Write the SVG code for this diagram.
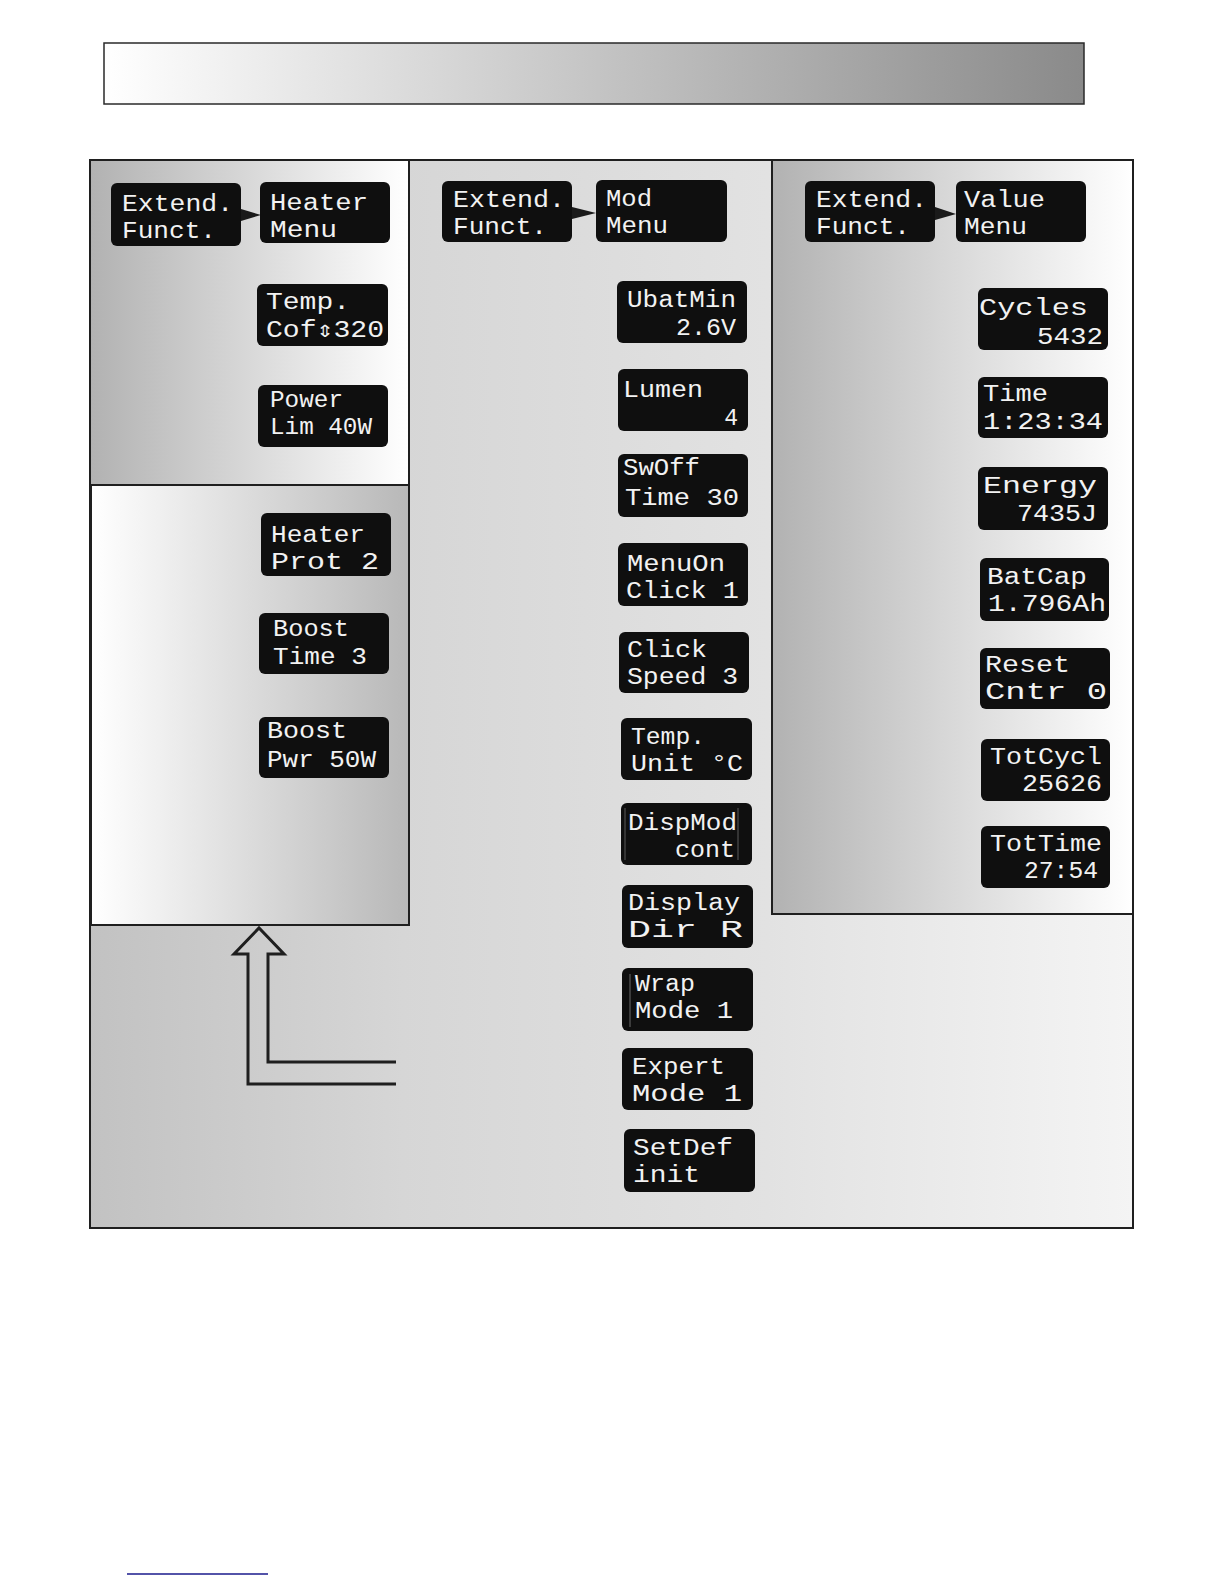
<svg xmlns="http://www.w3.org/2000/svg" width="1224" height="1584" viewBox="0 0 1224 1584" xml:space="preserve">
<style>
.lcd{fill:#0f0f0f}
.t{font-family:"Liberation Mono","DejaVu Sans Mono",monospace;font-size:23px;fill:#f2f2f2}
.frame{stroke:#1f1f1f;stroke-width:2}
.tri{fill:#1a1a1a}
</style>
<defs>
<linearGradient id="gHead" x1="0" y1="0" x2="1" y2="0"><stop offset="0" stop-color="#ffffff"/><stop offset="1" stop-color="#8a8a8a"/></linearGradient>
<linearGradient id="gOuter" x1="0" y1="0" x2="1" y2="0"><stop offset="0" stop-color="#c2c2c2"/><stop offset="0.3" stop-color="#d6d6d6"/><stop offset="0.65" stop-color="#e2e2e2"/><stop offset="1" stop-color="#f4f4f4"/></linearGradient>
<linearGradient id="gDarkLight" x1="0" y1="0" x2="1" y2="0"><stop offset="0" stop-color="#b2b2b2"/><stop offset="1" stop-color="#ffffff"/></linearGradient>
<linearGradient id="gLightDark" x1="0" y1="0" x2="1" y2="0"><stop offset="0" stop-color="#ffffff"/><stop offset="1" stop-color="#b8b8b8"/></linearGradient>
</defs>

<rect x="104" y="43" width="980" height="61" fill="url(#gHead)" stroke="#2a2a2a" stroke-width="1.5"/>

<g id="panels">
<rect x="90" y="160" width="1043" height="1068" fill="url(#gOuter)" class="frame"/>
<rect x="91" y="161" width="318" height="324" fill="url(#gDarkLight)"/>
<line x1="409" y1="160" x2="409" y2="485" class="frame"/>
<rect x="91" y="485" width="318" height="440" fill="url(#gLightDark)" class="frame"/>
<rect x="772" y="160" width="361" height="754" fill="url(#gDarkLight)" class="frame"/>
</g>

<g id="connectors">
<polygon class="tri" points="241,209 261,215 241,221"/>
<polygon class="tri" points="572,207 596,213 572,219"/>
<polygon class="tri" points="935,207 956,214 935,220"/>
<path d="M396,1062 H268 V954 H284 L259,928 L234,954 H248 V1084 H396" fill="none" stroke="#1f1f1f" stroke-width="3" stroke-linejoin="miter"/>
</g>

<g id="n-extend-heater"><rect class="lcd" x="111" y="183" width="130" height="63" rx="6"/>
<text class="t" x="122" y="211" textLength="111" lengthAdjust="spacingAndGlyphs">Extend.</text>
<text class="t" x="122" y="238" textLength="94" lengthAdjust="spacingAndGlyphs">Funct.</text></g>
<g id="n-heater-menu"><rect class="lcd" x="260" y="182" width="130" height="61" rx="6"/>
<text class="t" x="270" y="210" textLength="98" lengthAdjust="spacingAndGlyphs">Heater</text>
<text class="t" x="270" y="237" textLength="67" lengthAdjust="spacingAndGlyphs">Menu</text></g>
<g id="n-temp-cof"><rect class="lcd" x="257" y="284" width="131" height="62" rx="6"/>
<text class="t" x="266" y="309" textLength="84" lengthAdjust="spacingAndGlyphs">Temp.</text>
<text class="t" x="266" y="337" textLength="118" lengthAdjust="spacingAndGlyphs">Cof⇕320</text></g>
<g id="n-power-lim"><rect class="lcd" x="258" y="385" width="130" height="62" rx="6"/>
<text class="t" x="270" y="407" textLength="73" lengthAdjust="spacingAndGlyphs">Power</text>
<text class="t" x="270" y="434" textLength="102" lengthAdjust="spacingAndGlyphs">Lim 40W</text></g>
<g id="n-heater-prot"><rect class="lcd" x="261" y="513" width="130" height="63" rx="6"/>
<text class="t" x="271" y="542" textLength="94" lengthAdjust="spacingAndGlyphs">Heater</text>
<text class="t" x="271" y="569" textLength="108" lengthAdjust="spacingAndGlyphs">Prot   2</text></g>
<g id="n-boost-time"><rect class="lcd" x="259" y="613" width="130" height="61" rx="6"/>
<text class="t" x="273" y="636" textLength="76" lengthAdjust="spacingAndGlyphs">Boost</text>
<text class="t" x="273" y="664" textLength="94" lengthAdjust="spacingAndGlyphs">Time 3</text></g>
<g id="n-boost-pwr"><rect class="lcd" x="259" y="717" width="130" height="61" rx="6"/>
<text class="t" x="267" y="738" textLength="80" lengthAdjust="spacingAndGlyphs">Boost</text>
<text class="t" x="267" y="767" textLength="109" lengthAdjust="spacingAndGlyphs">Pwr 50W</text></g>

<g id="n-extend-mod"><rect class="lcd" x="442" y="181" width="130" height="61" rx="6"/>
<text class="t" x="453" y="207" textLength="112" lengthAdjust="spacingAndGlyphs">Extend.</text>
<text class="t" x="453" y="234" textLength="94" lengthAdjust="spacingAndGlyphs">Funct.</text></g>
<g id="n-mod-menu"><rect class="lcd" x="596" y="180" width="131" height="62" rx="6"/>
<text class="t" x="606" y="206" textLength="46" lengthAdjust="spacingAndGlyphs">Mod</text>
<text class="t" x="606" y="233" textLength="62" lengthAdjust="spacingAndGlyphs">Menu</text></g>
<g id="n-ubatmin"><rect class="lcd" x="617" y="281" width="130" height="62" rx="6"/>
<text class="t" x="627" y="307" textLength="109" lengthAdjust="spacingAndGlyphs">UbatMin</text>
<text class="t" x="736" y="335" text-anchor="end" textLength="60" lengthAdjust="spacingAndGlyphs">2.6V</text></g>
<g id="n-lumen"><rect class="lcd" x="618" y="369" width="130" height="62" rx="6"/>
<text class="t" x="623" y="397" textLength="80" lengthAdjust="spacingAndGlyphs">Lumen</text>
<text class="t" x="738" y="425" text-anchor="end">4</text></g>
<g id="n-swoff"><rect class="lcd" x="618" y="454" width="130" height="63" rx="6"/>
<text class="t" x="623" y="475" textLength="77" lengthAdjust="spacingAndGlyphs">SwOff</text>
<text class="t" x="625" y="505" textLength="114" lengthAdjust="spacingAndGlyphs">Time 30</text></g>
<g id="n-menuon"><rect class="lcd" x="618" y="543" width="130" height="63" rx="6"/>
<text class="t" x="627" y="571" textLength="98" lengthAdjust="spacingAndGlyphs">MenuOn</text>
<text class="t" x="626" y="598" textLength="113" lengthAdjust="spacingAndGlyphs">Click 1</text></g>
<g id="n-click-speed"><rect class="lcd" x="619" y="632" width="130" height="61" rx="6"/>
<text class="t" x="627" y="657" textLength="80" lengthAdjust="spacingAndGlyphs">Click</text>
<text class="t" x="627" y="684" textLength="111" lengthAdjust="spacingAndGlyphs">Speed 3</text></g>
<g id="n-temp-unit"><rect class="lcd" x="621" y="718" width="131" height="62" rx="6"/>
<text class="t" x="631" y="744" textLength="74" lengthAdjust="spacingAndGlyphs">Temp.</text>
<text class="t" x="631" y="771" textLength="112" lengthAdjust="spacingAndGlyphs">Unit °C</text></g>
<g id="n-dispmod"><rect class="lcd" x="621" y="803" width="131" height="62" rx="6"/>
<line x1="625" y1="808" x2="625" y2="860" stroke="#5a5a5a" stroke-width="1"/>
<line x1="738" y1="808" x2="738" y2="860" stroke="#5a5a5a" stroke-width="1"/>
<text class="t" x="628" y="830" textLength="109" lengthAdjust="spacingAndGlyphs">DispMod</text>
<text class="t" x="735" y="857" text-anchor="end" textLength="60" lengthAdjust="spacingAndGlyphs">cont</text></g>
<g id="n-display-dir"><rect class="lcd" x="622" y="885" width="131" height="63" rx="6"/>
<text class="t" x="628" y="910" textLength="112" lengthAdjust="spacingAndGlyphs">Display</text>
<text class="t" x="628" y="937" textLength="115" lengthAdjust="spacingAndGlyphs">Dir    R</text></g>
<g id="n-wrap-mode"><rect class="lcd" x="622" y="968" width="131" height="63" rx="6"/>
<line x1="630" y1="974" x2="630" y2="1027" stroke="#6a6a6a" stroke-width="1"/>
<text class="t" x="635" y="991" textLength="60" lengthAdjust="spacingAndGlyphs">Wrap</text>
<text class="t" x="635" y="1018" textLength="98" lengthAdjust="spacingAndGlyphs">Mode  1</text></g>
<g id="n-expert-mode"><rect class="lcd" x="622" y="1048" width="131" height="62" rx="6"/>
<text class="t" x="632" y="1074" textLength="93" lengthAdjust="spacingAndGlyphs">Expert</text>
<text class="t" x="632" y="1101" textLength="110" lengthAdjust="spacingAndGlyphs">Mode   1</text></g>
<g id="n-setdef"><rect class="lcd" x="624" y="1129" width="131" height="63" rx="6"/>
<text class="t" x="633" y="1155" textLength="100" lengthAdjust="spacingAndGlyphs">SetDef</text>
<text class="t" x="633" y="1182" textLength="67" lengthAdjust="spacingAndGlyphs">init</text></g>

<g id="n-extend-value"><rect class="lcd" x="805" y="181" width="130" height="61" rx="6"/>
<text class="t" x="816" y="207" textLength="111" lengthAdjust="spacingAndGlyphs">Extend.</text>
<text class="t" x="816" y="234" textLength="94" lengthAdjust="spacingAndGlyphs">Funct.</text></g>
<g id="n-value-menu"><rect class="lcd" x="956" y="181" width="130" height="61" rx="6"/>
<text class="t" x="964" y="207" textLength="81" lengthAdjust="spacingAndGlyphs">Value</text>
<text class="t" x="964" y="234" textLength="63" lengthAdjust="spacingAndGlyphs">Menu</text></g>
<g id="n-cycles"><rect class="lcd" x="978" y="288" width="130" height="62" rx="6"/>
<text class="t" x="979" y="315" textLength="109" lengthAdjust="spacingAndGlyphs">Cycles</text>
<text class="t" x="1103" y="344" text-anchor="end" textLength="66" lengthAdjust="spacingAndGlyphs">5432</text></g>
<g id="n-time"><rect class="lcd" x="978" y="377" width="130" height="61" rx="6"/>
<text class="t" x="983" y="401" textLength="65" lengthAdjust="spacingAndGlyphs">Time</text>
<text class="t" x="983" y="429" textLength="120" lengthAdjust="spacingAndGlyphs">1:23:34</text></g>
<g id="n-energy"><rect class="lcd" x="978" y="467" width="130" height="63" rx="6"/>
<text class="t" x="983" y="493" textLength="114" lengthAdjust="spacingAndGlyphs">Energy</text>
<text class="t" x="1097" y="521" text-anchor="end" textLength="80" lengthAdjust="spacingAndGlyphs">7435J</text></g>
<g id="n-batcap"><rect class="lcd" x="980" y="558" width="129" height="63" rx="6"/>
<text class="t" x="987" y="584" textLength="100" lengthAdjust="spacingAndGlyphs">BatCap</text>
<text class="t" x="988" y="611" textLength="118" lengthAdjust="spacingAndGlyphs">1.796Ah</text></g>
<g id="n-reset-cntr"><rect class="lcd" x="980" y="648" width="130" height="61" rx="6"/>
<text class="t" x="985" y="672" textLength="85" lengthAdjust="spacingAndGlyphs">Reset</text>
<text class="t" x="985" y="699" textLength="122" lengthAdjust="spacingAndGlyphs">Cntr   0</text></g>
<g id="n-totcycl"><rect class="lcd" x="981" y="739" width="129" height="62" rx="6"/>
<text class="t" x="990" y="764" textLength="112" lengthAdjust="spacingAndGlyphs">TotCycl</text>
<text class="t" x="1102" y="791" text-anchor="end" textLength="80" lengthAdjust="spacingAndGlyphs">25626</text></g>
<g id="n-tottime"><rect class="lcd" x="981" y="826" width="129" height="62" rx="6"/>
<text class="t" x="990" y="851" textLength="112" lengthAdjust="spacingAndGlyphs">TotTime</text>
<text class="t" x="1098" y="878" text-anchor="end" textLength="74" lengthAdjust="spacingAndGlyphs">27:54</text></g>

<line x1="127" y1="1574" x2="268" y2="1574" stroke="#1a1a8c" stroke-width="1.5"/>
</svg>
